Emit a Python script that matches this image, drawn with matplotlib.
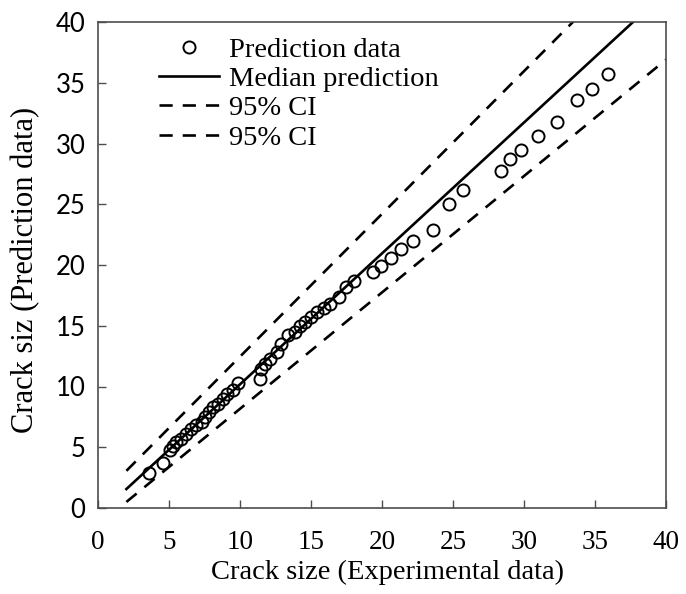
import matplotlib
matplotlib.use("Agg")
import matplotlib.pyplot as plt

# crack size: experimental vs predicted
exp_size = [3.6, 4.6, 5.05, 5.3, 5.5, 5.85, 6.2, 6.55, 6.9, 7.3, 7.5, 7.85, 8.1,
             8.45, 8.8, 9.1, 9.5, 9.85, 11.4, 11.5, 11.75, 12.1, 12.6, 12.9, 13.4,
             13.9, 14.2, 14.6, 15.0, 15.4, 15.9, 16.35, 17.0, 17.5, 18.0, 19.35,
             19.95, 20.65, 21.35, 22.2, 23.6, 24.7, 25.7, 28.4, 29.0, 29.8, 31.0,
             32.3, 33.7, 34.8, 35.9]
pred_size = [2.85, 3.7, 4.75, 5.1, 5.45, 5.7, 6.1, 6.5, 6.8, 7.1, 7.5, 7.9, 8.3,
              8.6, 9.0, 9.4, 9.75, 10.3, 10.6, 11.4, 11.85, 12.3, 12.8, 13.5, 14.2,
              14.45, 15.0, 15.3, 15.7, 16.1, 16.5, 16.8, 17.4, 18.2, 18.7, 19.4,
              19.9, 20.6, 21.35, 22.0, 22.9, 25.0, 26.2, 27.7, 28.7, 29.5, 30.6,
              31.8, 33.6, 34.5, 35.7]

# fitted lines, given at their two ends
line_x = [2, 40]
median_y = [1.56, 42.5]
upper_ci = [3.06, 47.7]
lower_ci = [0.5, 36.9]

ticks = [0, 5, 10, 15, 20, 25, 30, 35, 40]

fig = plt.figure(figsize=(6.86, 5.94), dpi=100)
ax = fig.add_axes([98/686, 1 - 508/594, 568/686, 486/594])

serif = "Liberation Serif"

ax.plot(exp_size, pred_size, "o", mfc="none", mec="black", ms=8.7, mew=1.4,
        label="Prediction data", zorder=3)
ax.plot(line_x, median_y, "-", color="black", lw=1.9, label="Median prediction")
ax.plot(line_x, upper_ci, color="black", lw=1.9, dashes=(5, 3.8), label="95% CI")
ax.plot(line_x, lower_ci, color="black", lw=1.9, dashes=(5, 3.8), label="95% CI")

ax.set_xlim(0, 40)
ax.set_ylim(0, 40)
ax.set_xticks(ticks)
ax.set_yticks(ticks)
ax.set_xticklabels([str(t) for t in ticks], fontfamily=serif, fontsize=19.5)
ax.set_yticklabels([str(t) for t in ticks], fontfamily="Lato", fontsize=18.5)
ax.tick_params(axis="both", direction="in", length=6, width=1, color="0.3")
ax.tick_params(axis="x", pad=16)
ax.tick_params(axis="y", pad=9)
for s in ax.spines.values():
    s.set_color("0.3")
    s.set_linewidth(1.2)

ax.set_xlabel("Crack size (Experimental data)", fontfamily=serif, fontsize=20.5)
ax.xaxis.set_label_coords(0.51, -0.106)
ax.set_ylabel("Crack siz (Prediction data)", fontfamily=serif, fontsize=22)
ax.yaxis.set_label_coords(-0.101, 0.49)

leg = ax.legend(loc="upper left", bbox_to_anchor=(0.108, 0.97), frameon=False,
                prop={"family": serif, "size": 20.5}, handlelength=2.1,
                handletextpad=0.35, labelspacing=0.12, borderpad=0,
                borderaxespad=0)

fig.savefig("out.png", dpi=100)
